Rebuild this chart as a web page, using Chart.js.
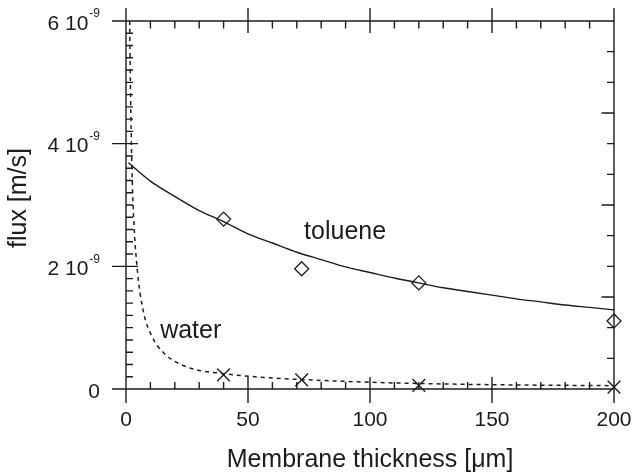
<!DOCTYPE html>
<html>
<head>
<meta charset="utf-8">
<script src="https://cdn.jsdelivr.net/npm/chart.js@4.4.1/dist/chart.umd.min.js"></script>
<style>
  html, body { margin: 0; padding: 0; background: #fff; }
  #wrap { width: 635px; height: 475px; position: relative; }
</style>
</head>
<body>
<div id="wrap"><canvas id="chart"></canvas></div>
<script>
// measured points
const tolueneX = [40, 72, 120, 200];
const tolueneY = [2.77e-9, 1.96e-9, 1.73e-9, 1.11e-9];
const waterX = [40, 72, 120, 200];
const waterY = [0.23e-9, 0.15e-9, 0.06e-9, 0.03e-9];

// fitted curves
const tolueneFitX = [1, 10, 20, 30, 40, 50, 60, 70, 80, 90, 100, 110, 120, 130, 140, 150, 160, 170, 180, 190, 200];
const tolueneFitY = [3.69e-9, 3.39e-9, 3.14e-9, 2.91e-9, 2.73e-9, 2.53e-9, 2.38e-9, 2.23e-9, 2.11e-9, 1.99e-9,
  1.90e-9, 1.81e-9, 1.73e-9, 1.65e-9, 1.59e-9, 1.53e-9, 1.47e-9, 1.42e-9, 1.37e-9, 1.33e-9, 1.29e-9];
const waterFitX = [1.5, 1.8, 2.2, 2.9, 4.5, 7.2, 10.6, 15.4, 25, 40, 60, 80, 100, 120, 150, 200];
const waterFitY = [6.0e-9, 5.0e-9, 4.0e-9, 3.0e-9, 2.0e-9, 1.25e-9, 0.86e-9, 0.59e-9, 0.36e-9, 0.25e-9,
  0.18e-9, 0.14e-9, 0.11e-9, 0.09e-9, 0.07e-9, 0.054e-9];

const xTicks = [0, 50, 100, 150, 200];
const yTicks = [0, 2e-9, 4e-9, 6e-9];

const ink = '#1c1c1c';
const fontFamily = '"Liberation Sans", Arial, Helvetica, sans-serif';

function toPoints(xs, ys) {
  return xs.map((v, i) => ({ x: v, y: ys[i] }));
}

function line(ctx, x1, y1, x2, y2) {
  ctx.moveTo(x1, y1);
  ctx.lineTo(x2, y2);
}

// box with inward ticks, y labels with superscript, curve labels
const framePlugin = {
  id: 'frame',
  afterDraw(chart) {
    const { ctx, chartArea: a, scales: { x, y } } = chart;
    ctx.save();
    ctx.strokeStyle = ink;
    ctx.lineWidth = 1.4;
    ctx.beginPath();
    ctx.rect(a.left, a.top, a.right - a.left, a.bottom - a.top);
    for (let v = 0; v <= 200; v += 10) {
      const px = x.getPixelForValue(v);
      if (v % 50 === 0) {
        line(ctx, px, a.top - 13, px, a.top + 12);
        line(ctx, px, a.bottom - 12, px, a.bottom + 14);
      } else {
        line(ctx, px, a.top, px, a.top + 7.5);
        line(ctx, px, a.bottom - 7, px, a.bottom);
      }
    }
    for (let i = 0; i <= 30; i++) {
      const py = y.getPixelForValue(i * 0.2e-9);
      if (i % 10 === 0) line(ctx, a.left - 14, py, a.left + 12, py);
      else line(ctx, a.left, py, a.left + 7, py);
    }
    for (let i = 0; i <= 12; i++) {
      const py = y.getPixelForValue(i * 0.5e-9);
      line(ctx, a.right - (i % 3 === 0 ? 12.5 : 7), py, a.right, py);
    }
    ctx.stroke();

    // y tick labels: "6 10^-9"
    ctx.fillStyle = ink;
    ctx.textBaseline = 'middle';
    const right = a.left - 26;
    yTicks.forEach(v => {
      const py = y.getPixelForValue(v) + 3;
      if (v === 0) {
        ctx.font = '21px ' + fontFamily;
        ctx.textAlign = 'right';
        ctx.fillText('0', right, py);
        return;
      }
      ctx.font = '12px ' + fontFamily;
      const sup = '-9';
      const supW = ctx.measureText(sup).width;
      ctx.textAlign = 'left';
      ctx.fillText(sup, right - supW, py - 10);
      ctx.font = '21px ' + fontFamily;
      ctx.textAlign = 'right';
      ctx.fillText(Math.round(v * 1e9) + ' 10', right - supW - 1, py);
    });

    // y axis title, sits a little above the middle in the original
    ctx.font = '25px ' + fontFamily;
    ctx.textAlign = 'center';
    ctx.save();
    ctx.translate(19, (a.top + a.bottom) / 2 - 7);
    ctx.rotate(-Math.PI / 2);
    ctx.fillText('flux [m/s]', 0, 0);
    ctx.restore();

    // curve labels
    ctx.textAlign = 'left';
    ctx.textBaseline = 'alphabetic';
    ctx.fillText('toluene', x.getPixelForValue(73), y.getPixelForValue(2.45e-9));
    ctx.fillText('water', x.getPixelForValue(14), y.getPixelForValue(0.83e-9));
    ctx.restore();
  }
};

new Chart(document.getElementById('chart'), {
  type: 'scatter',
  data: {
    datasets: [
      {
        label: 'toluene fit',
        data: toPoints(tolueneFitX, tolueneFitY),
        showLine: true,
        borderColor: ink,
        borderWidth: 1.4,
        pointRadius: 0,
        cubicInterpolationMode: 'monotone',
      },
      {
        label: 'water fit',
        data: toPoints(waterFitX, waterFitY),
        showLine: true,
        borderColor: ink,
        borderWidth: 1.5,
        borderDash: [4, 4],
        pointRadius: 0,
        cubicInterpolationMode: 'monotone',
      },
      {
        label: 'toluene',
        data: toPoints(tolueneX, tolueneY),
        pointStyle: 'rectRot',
        pointRadius: 7,
        borderWidth: 1.3,
        borderColor: ink,
        backgroundColor: '#fff',
        clip: false,
      },
      {
        label: 'water',
        data: toPoints(waterX, waterY),
        pointStyle: 'crossRot',
        pointRadius: 9,
        borderWidth: 1.4,
        borderColor: ink,
        backgroundColor: ink,
        clip: false,
      },
    ],
  },
  options: {
    responsive: true,
    maintainAspectRatio: false,
    animation: false,
    layout: {
      padding: { top: 21, right: 21, left: 0, bottom: 0 },
    },
    plugins: {
      legend: { display: false },
      tooltip: { enabled: false },
    },
    scales: {
      x: {
        type: 'linear',
        min: 0,
        max: 200,
        afterFit: (scale) => {
          scale.height = 86;
          scale.paddingLeft = 0;
          scale.paddingRight = 0;
        },
        afterBuildTicks: (scale) => { scale.ticks = xTicks.map(v => ({ value: v })); },
        grid: { display: false, drawTicks: false },
        border: { display: false },
        ticks: {
          color: ink,
          padding: 19,
          maxRotation: 0,
          font: { family: fontFamily, size: 21 },
        },
        title: {
          display: true,
          text: 'Membrane thickness [μm]',
          color: ink,
          padding: { top: 0, bottom: 0 },
          font: { family: fontFamily, size: 25 },
        },
      },
      y: {
        type: 'linear',
        min: 0,
        max: 6e-9,
        afterFit: (scale) => {
          scale.width = 126;
          scale.paddingTop = 0;
          scale.paddingBottom = 0;
        },
        grid: { display: false, drawTicks: false },
        border: { display: false },
        ticks: { display: false },
        title: { display: false },
      },
    },
  },
  plugins: [framePlugin],
});
</script>
</body>
</html>
